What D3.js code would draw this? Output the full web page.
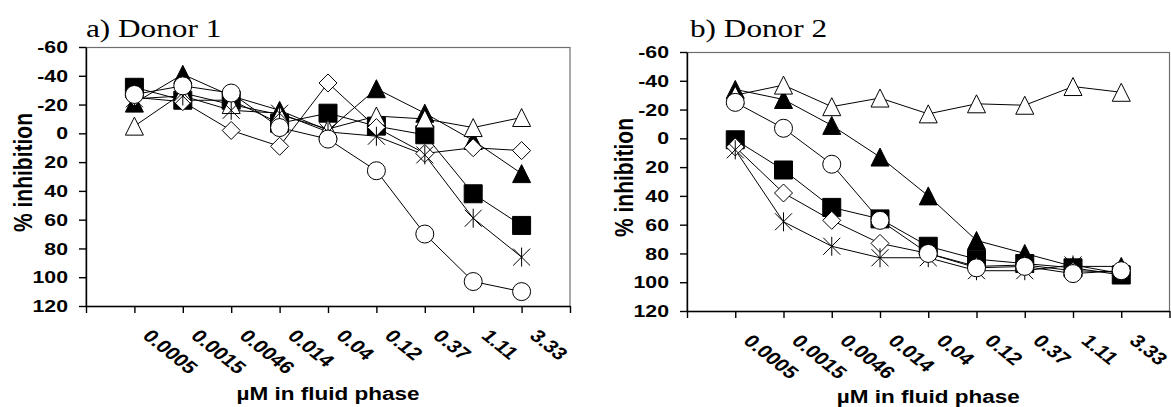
<!DOCTYPE html>
<html>
<head>
    <title>Inhibition by donor</title>
    <script src="https://cdn.jsdelivr.net/npm/d3@7/dist/d3.min.js" type="text/javascript"></script>
    <style type="text/css">
        body { margin: 0; background: #fff; }
        text { fill: #000; }
    </style>
</head>
<body>
<div id="chart"></div>
<script type="text/javascript">
    // x categories (uM in fluid phase)
    var concentrations = ["0.0005", "0.0015", "0.0046", "0.014", "0.04", "0.12", "0.37", "1.11", "3.33"];
    var yTicks = [-60, -40, -20, 0, 20, 40, 60, 80, 100, 120];

    // a) Donor 1 - % inhibition
    var d1Square    = [-32, -23, -23, -7, -14, -5, 1, 42, 64];
    var d1TriFilled = [-21, -41, -26, -16, -2, -31, -14, 5, 28];
    var d1TriOpen   = [-5, -28, -20, -13, -3, -12, -10, -4, -11];
    var d1Diamond   = [-25, -22, -2, 9, -35, -4, 14, 10, 12];
    var d1Star      = [-24, -26, -16, -14, -1, 2, 15, 59, 86];
    var d1Circle    = [-27, -33, -28, -4, 4, 26, 70, 103, 110];

    // b) Donor 2
    var d2Square    = [1, 22, 48, 56, 75, 84, 87, 90, 95];
    var d2TriFilled = [-34, -27, -9, 13, 40, 71, 80, 89, 89];
    var d2TriOpen   = [-30, -37, -22, -28, -17, -24, -23, -36, -32];
    var d2Diamond   = [6, 38, 57, 73, 80, 89, 88, 92, 93];
    var d2Star      = [8, 58, 75, 83, 83, 92, 92, 88, 94];
    var d2Circle    = [-25, -7, 18, 57, 80, 90, 89, 94, 92];

    var W = 1171, H = 407;
    var sx = 1.25; // the original figure is stretched horizontally

    var svg = d3.select('#chart')
        .append('svg')
        .attr('width', W)
        .attr('height', H);

    var panels = [
        {title: 'a) Donor 1', left: 86, right: 570, top: 47, bottom: 306, titleX: 86, xTitleY: 400,
         series: [['square', d1Square], ['triFilled', d1TriFilled], ['triOpen', d1TriOpen],
                  ['diamond', d1Diamond], ['star', d1Star], ['circle', d1Circle]]},
        {title: 'b) Donor 2', left: 687, right: 1169.5, top: 52, bottom: 311, titleX: 690, xTitleY: 403,
         series: [['square', d2Square], ['triFilled', d2TriFilled], ['triOpen', d2TriOpen],
                  ['diamond', d2Diamond], ['star', d2Star], ['circle', d2Circle]]}
    ];

    var h = 9; //marker half size
    function markerPath(type) {
        switch (type) {
            case 'square':
                return 'M' + -h + ',' + -h + 'H' + h + 'V' + h + 'H' + -h + 'Z';
            case 'triFilled':
            case 'triOpen':
                return 'M0,' + -h + 'L' + h + ',' + h + 'L' + -h + ',' + h + 'Z';
            case 'diamond':
                return 'M0,' + -h + 'L' + h + ',0L0,' + h + 'L' + -h + ',0Z';
            case 'star':
                var a = 8.5;
                return 'M' + -a + ',' + -a + 'L' + a + ',' + a + 'M' + -a + ',' + a + 'L' + a + ',' + -a +
                    'M0,' + -(h + 0.5) + 'V' + (h + 0.5);
        }
    }

    // stretched text helper
    function stretchedText(g, x, y, str, extra) {
        return g.append('text')
            .attr('transform', 'translate(' + x + ',' + y + ') scale(' + sx + ',1)' + (extra || ''))
            .text(str);
    }

    panels.forEach(function(p) {
        var x = d3.scaleLinear().domain([0, concentrations.length + 1]).range([p.left, p.right]);
        var y = d3.scaleLinear().domain([-60, 120]).range([p.top, p.bottom]);
        var g = svg.append('g');

        // plot area frame (gray) - top and right edges
        g.append('rect')
            .attr('x', p.left).attr('y', p.top + 0.5)
            .attr('width', p.right - p.left).attr('height', p.bottom - p.top)
            .attr('fill', 'none').attr('stroke', '#6e6e6e').attr('stroke-width', 1.2);

        // axes
        var xAxis = d3.axisBottom(x)
            .tickValues(d3.range(0, concentrations.length + 2))
            .tickFormat('')
            .tickSizeInner(7).tickSizeOuter(0);
        g.append('g')
            .attr('transform', 'translate(0,' + p.bottom + ')')
            .call(xAxis)
            .call(function(a) { a.selectAll('path,line').attr('stroke', '#000').attr('stroke-width', 1.4); });

        var yAxis = d3.axisLeft(y)
            .tickValues(yTicks)
            .tickFormat('')
            .tickSizeInner(7).tickSizeOuter(0);
        g.append('g')
            .attr('transform', 'translate(' + p.left + ',0)')
            .call(yAxis)
            .call(function(a) { a.selectAll('path,line').attr('stroke', '#000').attr('stroke-width', 1.4); });

        // y tick labels
        var yl = g.append('g')
            .attr('font-family', '"Liberation Sans", Arial, sans-serif')
            .attr('font-weight', 'bold').attr('font-size', 17)
            .attr('text-anchor', 'end');
        yTicks.forEach(function(t) {
            stretchedText(yl, p.left - 18, y(t), t).attr('dy', '0.36em');
        });

        // x tick labels, rotated
        var xl = g.append('g')
            .attr('font-family', '"Liberation Sans", Arial, sans-serif')
            .attr('font-weight', 'bold').attr('font-size', 17.5);
        concentrations.forEach(function(c, i) {
            stretchedText(xl, x(i + 1) + 7, p.bottom + 31, c, ' rotate(45)');
        });

        // axis titles
        stretchedText(g, (p.left + p.right) / 2, p.xTitleY, '\u00b5M in fluid phase')
            .attr('font-family', '"Liberation Sans", Arial, sans-serif')
            .attr('font-weight', 'bold').attr('font-size', 18)
            .attr('text-anchor', 'middle');
        stretchedText(g, p.left - 63.5, (p.top + p.bottom) / 2 - 4, '% inhibition', ' rotate(-90)')
            .attr('font-family', '"Liberation Sans", Arial, sans-serif')
            .attr('font-weight', 'bold').attr('font-size', 21)
            .attr('text-anchor', 'middle').attr('dy', '0.36em');

        // panel title
        stretchedText(g, p.titleX, 37, p.title)
            .attr('font-family', '"Liberation Serif", "Times New Roman", serif')
            .attr('font-size', 25);

        // lines first
        var line = d3.line()
            .x(function(d, i) { return x(i + 1); })
            .y(function(d) { return y(d); });
        p.series.forEach(function(s) {
            g.append('path')
                .datum(s[1])
                .attr('d', line)
                .attr('fill', 'none')
                .attr('stroke', '#000')
                .attr('stroke-width', 1);
        });

        // then markers
        p.series.forEach(function(s) {
            var type = s[0];
            var m = g.append('g').selectAll('.m')
                .data(s[1])
                .enter();
            if (type == 'circle') {
                m.append('circle')
                    .attr('cx', function(d, i) { return x(i + 1); })
                    .attr('cy', function(d) { return y(d); })
                    .attr('r', h)
                    .attr('fill', '#fff').attr('stroke', '#000').attr('stroke-width', 1);
            } else {
                var filled = (type == 'square' || type == 'triFilled');
                m.append('path')
                    .attr('transform', function(d, i) { return 'translate(' + x(i + 1) + ',' + y(d) + ')'; })
                    .attr('d', markerPath(type))
                    .attr('fill', type == 'star' ? 'none' : (filled ? '#000' : '#fff'))
                    .attr('stroke', '#000')
                    .attr('stroke-width', 1);
            }
        });
    });
</script>
</body>
</html>
